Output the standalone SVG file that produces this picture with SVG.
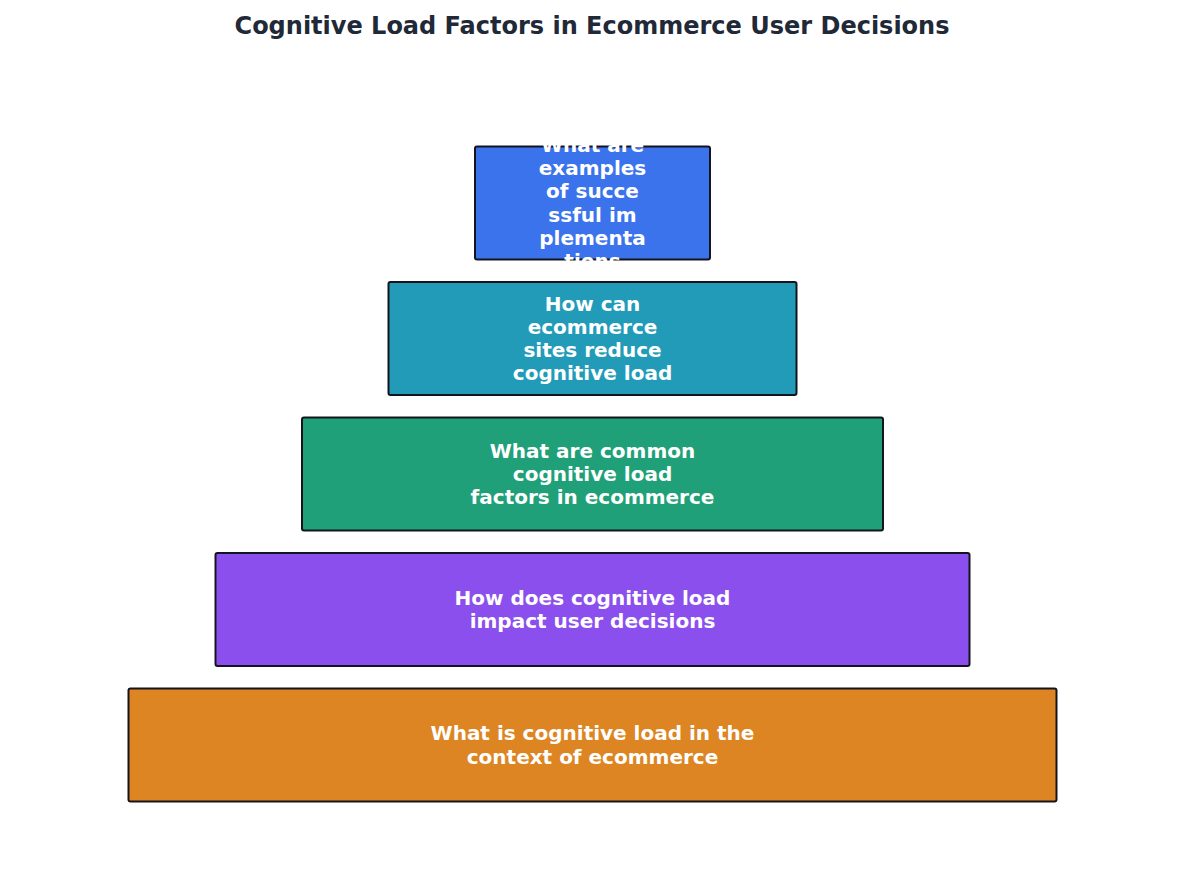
<svg xmlns="http://www.w3.org/2000/svg" width="1185" height="882" viewBox="0 0 1185 882">
<style>
.b{stroke:#14141e;stroke-width:2}
.t{font-family:"DejaVu Sans",sans-serif;font-weight:bold;font-size:20px;fill:#fff;text-anchor:middle;dominant-baseline:central}
.title{font-family:"DejaVu Sans",sans-serif;font-weight:bold;font-size:24px;fill:#1f2937;text-anchor:middle;dominant-baseline:central}
</style>
<rect width="1185" height="882" fill="#fff"/>
<text class="title" x="592" y="26">Cognitive Load Factors in Ecommerce User Decisions</text>
<g id="connectors"/>
<g id="n1"><rect class="b" x="475" y="146.5" width="235" height="113" rx="2" fill="#3b73ed"/>
<text class="t" x="592.5"><tspan x="592.5" y="145">What are</tspan><tspan x="592.5" y="168">examples</tspan><tspan x="592.5" y="191">of succe</tspan><tspan x="592.5" y="215">ssful im</tspan><tspan x="592.5" y="238">plementa</tspan><tspan x="592.5" y="261">tions</tspan></text></g>
<g id="n2"><rect class="b" x="388.5" y="282" width="408" height="113" rx="2" fill="#219bb8"/>
<text class="t"><tspan x="592.5" y="304">How can</tspan><tspan x="592.5" y="327">ecommerce</tspan><tspan x="592.5" y="350">sites reduce</tspan><tspan x="592.5" y="373">cognitive load</tspan></text></g>
<g id="n3"><rect class="b" x="302" y="417.5" width="581" height="113" rx="2" fill="#1fa078"/>
<text class="t"><tspan x="592.5" y="451">What are common</tspan><tspan x="592.5" y="474">cognitive load</tspan><tspan x="592.5" y="497">factors in ecommerce</tspan></text></g>
<g id="n4"><rect class="b" x="215.5" y="553" width="754" height="113" rx="2" fill="#8b4fee"/>
<text class="t"><tspan x="592.5" y="598">How does cognitive load</tspan><tspan x="592.5" y="621">impact user decisions</tspan></text></g>
<g id="n5"><rect class="b" x="128.5" y="688.5" width="928" height="113" rx="2" fill="#dd8522"/>
<text class="t"><tspan x="592.5" y="733">What is cognitive load in the</tspan><tspan x="592.5" y="757">context of ecommerce</tspan></text></g>
</svg>
